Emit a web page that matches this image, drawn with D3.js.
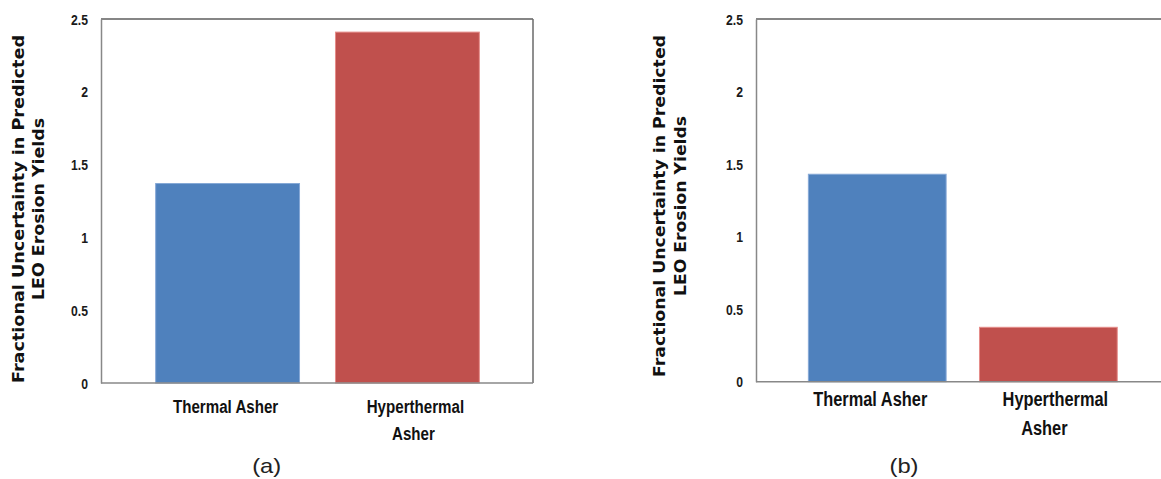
<!DOCTYPE html>
<html><head><meta charset="utf-8">
<script src="https://cdn.jsdelivr.net/npm/d3@7"></script>
<style>body{margin:0;background:#fff}svg{display:block}</style></head>
<body><svg id="c" width="1161" height="479"></svg>
<script>
// ---- data ----
const categories = ["Thermal Asher", "Hyperthermal Asher"];
const categoryLines = [["Thermal Asher"], ["Hyperthermal", "Asher"]];
const valuesA = [1.37, 2.41];
const valuesB = [1.43, 0.375];
const yTicks = [0, 0.5, 1, 1.5, 2, 2.5];
const yTickLabels = ["0", "0.5", "1", "1.5", "2", "2.5"];
const yTitleLines = ["Fractional Uncertainty in Predicted", "LEO Erosion Yields"];
const captions = ["(a)", "(b)"];

// ---- style / layout ----
const barColors = ["#4F81BD", "#C0504D"];
const barEdges = ["#86a8d6", "#e58c89"];
const squeezeK = 0.84;

const panels = [
  { values: valuesA, caption: captions[0],
    left: 101, right: 533, top: 19, bottom: 383, frameRight: true, lineEnd: 533,
    xRange: [119.7, 515.3], pad: 0.2,
    tickX: 88, tickSize: 14.5,
    titleX: [23.5, 44], titleCY: 209, titleLen: [348, 182],
    labelSize: 18, labelBase: [413, 439.5], labelDx: [[-2], [8, 6]],
    capX: 266.7 },
  { values: valuesB, caption: captions[1],
    left: 756, right: 1161, top: 19, bottom: 381.7, frameRight: false, lineEnd: 1161,
    xRange: [775, 1150.6], pad: 0.195,
    tickX: 743, tickSize: 14.5,
    titleX: [664.5, 686], titleCY: 206, titleLen: [342, 180],
    labelSize: 19.5, labelBase: [406, 435], labelDx: [[-7], [7, -4]],
    capX: 904 }
];

const svg = d3.select("#c");

function squeeze(sel, k) {
  sel.each(function () {
    const L = this.getComputedTextLength();
    d3.select(this).attr("textLength", L * k).attr("lengthAdjust", "spacingAndGlyphs");
  });
}

panels.forEach(p => {
  const g = svg.append("g");
  const x = d3.scaleBand().domain(categories).range(p.xRange).paddingInner(p.pad).paddingOuter(p.pad);
  const y = d3.scaleLinear().domain([0, 2.5]).range([p.bottom, p.top]);

  // bars
  g.selectAll("rect.bar").data(categories).join("rect")
    .attr("class", "bar")
    .attr("x", d => x(d))
    .attr("width", x.bandwidth())
    .attr("y", (d, i) => y(p.values[i]))
    .attr("height", (d, i) => y(0) - y(p.values[i]))
    .attr("fill", (d, i) => barColors[i])
    .attr("stroke", (d, i) => barEdges[i])
    .attr("stroke-width", 1);

  // frame top / right
  g.append("line").attr("x1", p.left).attr("x2", p.lineEnd).attr("y1", y(2.5)).attr("y2", y(2.5))
    .attr("stroke", "#5e5e5e").attr("stroke-width", 1.5);
  if (p.frameRight) {
    g.append("line").attr("x1", p.right).attr("x2", p.right).attr("y1", y(2.5)).attr("y2", y(0))
      .attr("stroke", "#6a6a6a").attr("stroke-width", 1.5);
  }

  // y axis
  const ya = d3.axisLeft(y).tickValues(yTicks).tickSize(0)
    .tickFormat((d, i) => yTickLabels[i]);
  const yg = g.append("g").attr("transform", `translate(${p.left},0)`).call(ya);
  yg.select(".domain").attr("stroke", "#888").attr("stroke-width", 1.5);
  yg.selectAll(".tick text")
    .attr("x", p.tickX - p.left)
    .attr("dy", null)
    .attr("y", 5)
    .attr("fill", "#1a1a1a")
    .style("font-family", "'Liberation Sans', Arial, sans-serif")
    .style("font-weight", "bold")
    .style("font-size", p.tickSize + "px")
    .call(squeeze, squeezeK);

  // x axis line
  g.append("line").attr("x1", p.left).attr("x2", p.lineEnd).attr("y1", y(0)).attr("y2", y(0))
    .attr("stroke", "#888").attr("stroke-width", 1.5);

  // category labels
  categoryLines.forEach((lines, ci) => {
    lines.forEach((ln, li) => {
      g.append("text")
        .attr("x", x(categories[ci]) + x.bandwidth() / 2 + p.labelDx[ci][li])
        .attr("y", p.labelBase[li])
        .attr("text-anchor", "middle")
        .attr("fill", "#111")
        .style("font-family", "'Liberation Sans', Arial, sans-serif")
        .style("font-weight", "bold")
        .style("font-size", p.labelSize + "px")
        .text(ln)
        .call(squeeze, squeezeK);
    });
  });

  // y title
  yTitleLines.forEach((ln, li) => {
    g.append("text")
      .attr("transform", `translate(${p.titleX[li]},${p.titleCY}) rotate(-90)`)
      .attr("text-anchor", "middle")
      .attr("fill", "#111")
      .style("font-family", "'DejaVu Sans', Verdana, sans-serif")
      .style("font-weight", "bold")
      .style("font-size", "16px")
      .attr("textLength", p.titleLen[li])
      .attr("lengthAdjust", "spacingAndGlyphs")
      .text(ln);
  });

  // caption
  g.append("text")
    .attr("x", p.capX).attr("y", 473)
    .attr("text-anchor", "middle")
    .attr("fill", "#222")
    .style("font-family", "'Liberation Sans', Arial, sans-serif")
    .style("font-size", "21px")
    .attr("textLength", 29)
    .attr("lengthAdjust", "spacingAndGlyphs")
    .text(p.caption);
});
</script>
</body></html>
